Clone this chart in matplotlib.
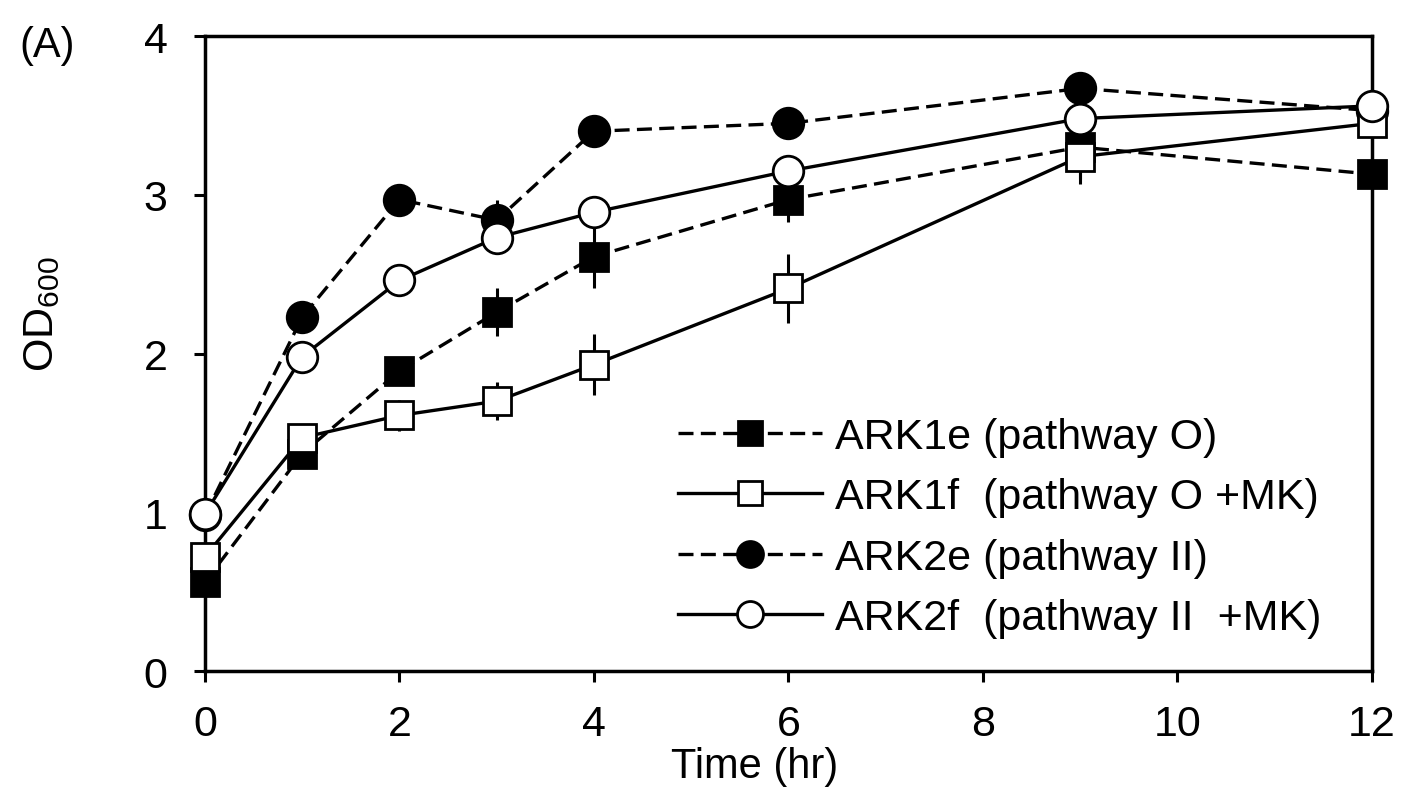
import matplotlib
matplotlib.use("Agg")
import matplotlib.pyplot as plt

plt.rcParams['font.family'] = ['Liberation Sans', 'DejaVu Sans']
plt.rcParams['mathtext.fontset'] = 'custom'
plt.rcParams['mathtext.rm'] = 'Liberation Sans'

# time points (hr)
hours = [0, 1, 2, 3, 4, 6, 9, 12]

# OD600 readings
ark1e = [0.56, 1.37, 1.89, 2.26, 2.61, 2.97, 3.30, 3.13]
ark1f = [0.72, 1.47, 1.61, 1.70, 1.93, 2.41, 3.24, 3.45]
ark2e = [0.98, 2.23, 2.97, 2.84, 3.40, 3.45, 3.67, 3.53]
ark2f = [0.99, 1.98, 2.46, 2.73, 2.89, 3.15, 3.48, 3.56]

# error bars (sd)
err1e = [0.03, 0.05, 0.05, 0.15, 0.20, 0.14, 0.20, 0.05]
err1f = [0.03, 0.05, 0.10, 0.12, 0.19, 0.22, 0.17, 0.05]
err2e = [0.03, 0.05, 0.05, 0.13, 0.05, 0.05, 0.05, 0.05]
err2f = [0.03, 0.05, 0.05, 0.08, 0.10, 0.10, 0.05, 0.05]

labels = ['ARK1e (pathway O)', 'ARK1f  (pathway O +MK)',
          'ARK2e (pathway II)', 'ARK2f  (pathway II  +MK)']

fig = plt.figure(figsize=(14.01, 8.03), dpi=100)
ax = fig.add_axes([0.1463, 0.1631, 0.833, 0.7908])

lw = 2.4
dash = (4.5, 2.2)

# drawn filled first so open markers sit on top
series = [
    (ark1e, err1e, 's', 'black', True, 20),
    (ark2e, err2e, 'o', 'black', True, 22),
    (ark1f, err1f, 's', 'white', False, 20),
    (ark2f, err2f, 'o', 'white', False, 22),
]
handles = []
for k, (y, e, m, fc, dashed, ms) in enumerate(series):
    cont = ax.errorbar(hours, y, yerr=e, fmt=m, linestyle='-', color='black',
                       mfc=fc, mec='black', mew=2, ms=ms, lw=lw,
                       elinewidth=2.2, capsize=0, zorder=3 + k, clip_on=False)
    line = cont[0]
    if dashed:
        line.set_dashes(dash)
    for bar in cont[2]:
        bar.set_clip_on(False)
    handles.append(line)

ax.set_xlim(0, 12)
ax.set_ylim(0, 4)
ax.set_xticks([0, 2, 4, 6, 8, 10, 12])
ax.set_yticks([0, 1, 2, 3, 4])
ax.tick_params(direction='out', length=8, width=2.2, labelsize=31)
ax.tick_params(axis='y', pad=19)
ax.tick_params(axis='x', pad=16)
for s in ax.spines.values():
    s.set_linewidth(2.5)

ax.set_xlabel('Time (hr)', fontsize=30)
ax.xaxis.set_label_coords(0.471, -0.118)
ax.set_ylabel('OD$_{\\mathregular{600}}$', fontsize=31)
ax.yaxis.set_label_coords(-0.122, 0.564)

fig.text(0.0335, 0.943, '(A)', fontsize=30, ha='center', va='center')

# legend order: ARK1e, ARK1f, ARK2e, ARK2f
leg_handles = [handles[0], handles[2], handles[1], handles[3]]
leg = ax.legend(leg_handles, labels, loc='center left',
                bbox_to_anchor=(0.405, 0.226), frameon=False, fontsize=31,
                handlelength=3.35, handletextpad=0.3, labelspacing=0.47,
                borderpad=0, borderaxespad=0, markerscale=0.85)

fig.savefig('out.png', dpi=100)
